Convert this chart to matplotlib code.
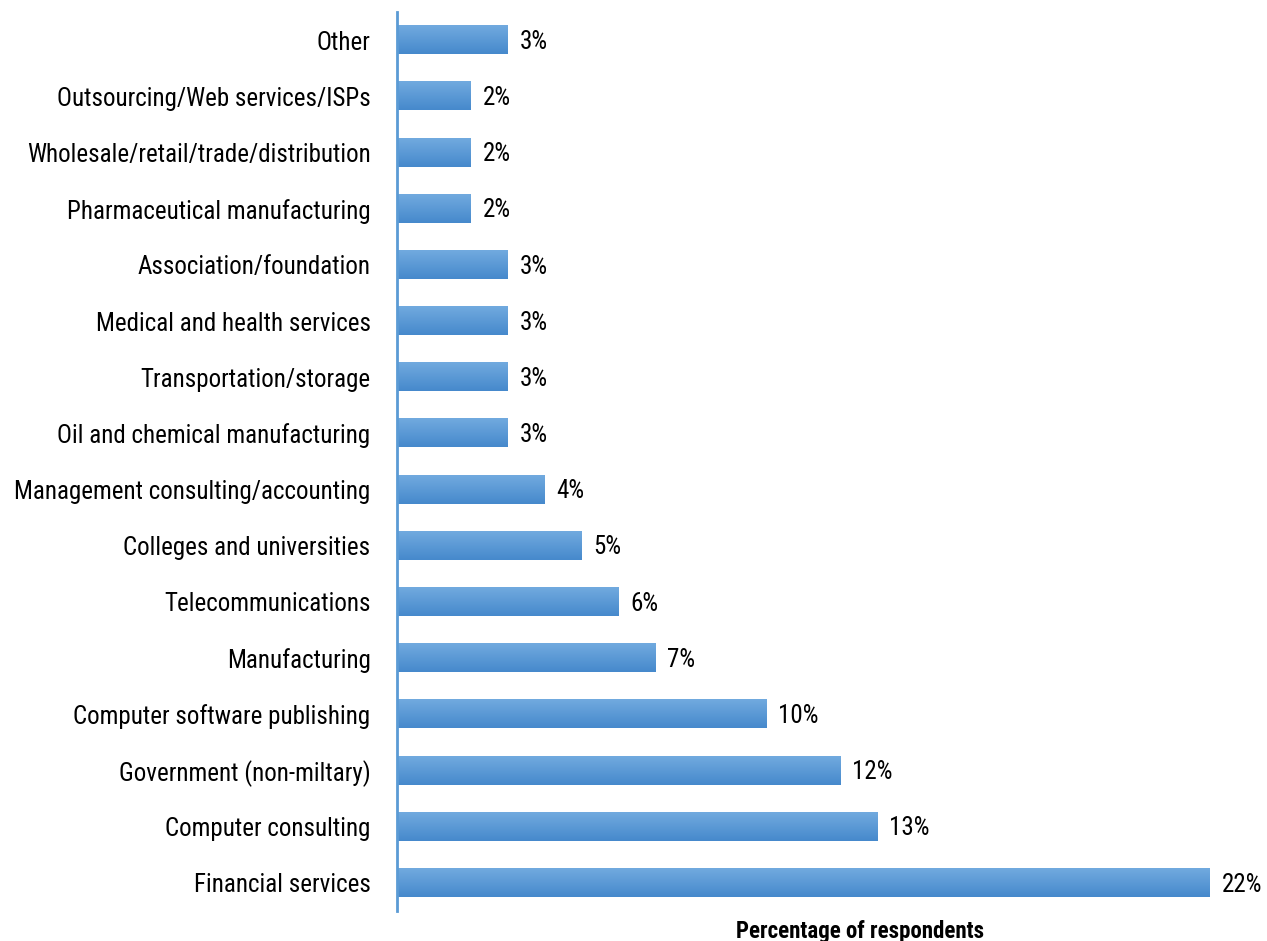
import matplotlib.pyplot as plt
import numpy as np
from matplotlib import font_manager
from matplotlib.colors import LinearSegmentedColormap

industries = [
    "Financial services",
    "Computer consulting",
    "Government (non-miltary)",
    "Computer software publishing",
    "Manufacturing",
    "Telecommunications",
    "Colleges and universities",
    "Management consulting/accounting",
    "Oil and chemical manufacturing",
    "Transportation/storage",
    "Medical and health services",
    "Association/foundation",
    "Pharmaceutical manufacturing",
    "Wholesale/retail/trade/distribution",
    "Outsourcing/Web services/ISPs",
    "Other",
]
shares = [22, 13, 12, 10, 7, 6, 5, 4, 3, 3, 3, 3, 2, 2, 2, 3]

AXIS_BLUE = "#5B9BD5"
TOP, BOTTOM = "#71AADF", "#4689CC"

names = {f.name for f in font_manager.fontManager.ttflist}
family = "Roboto Condensed" if "Roboto Condensed" in names else "Roboto"
plt.rcParams["font.family"] = [family, "DejaVu Sans"]

fig = plt.figure(figsize=(12.67, 9.41), dpi=100)
ax = fig.add_axes([397 / 1267, 30 / 941, 870 / 1267, 899 / 941])

y = np.arange(len(industries))
bars = ax.barh(y, shares, height=0.5, color="none", edgecolor="none")

# vertical gradient fill per bar, light on top
grad = LinearSegmentedColormap.from_list("bar", [BOTTOM, TOP])
g = np.linspace(0, 1, 64).reshape(-1, 1)
for b in bars:
    x0, y0 = b.get_x(), b.get_y()
    ax.imshow(g, cmap=grad, aspect="auto", origin="lower",
              extent=(x0, x0 + b.get_width(), y0, y0 + b.get_height()), zorder=2)

for yi, v in zip(y, shares):
    ax.text(v + 0.32, yi - 0.03, f"{v}%", va="center", ha="left", fontsize=18, color="black")

ax.set_xlim(0, 870 / 36.95)
ax.set_ylim(-0.5, len(industries) - 0.5)
ax.set_yticks(y)
ax.set_yticklabels(industries, fontsize=18)
ax.tick_params(axis="y", length=0, pad=19)
ax.set_xticks([])
for s in ("top", "right", "bottom"):
    ax.spines[s].set_visible(False)
ax.spines["left"].set_color(AXIS_BLUE)
ax.spines["left"].set_linewidth(2)

fig.text(860 / 1267, 3 / 941, "Percentage of respondents", ha="center", va="baseline",
         fontsize=16.5, fontweight="bold")

fig.savefig("out.png", dpi=100)
